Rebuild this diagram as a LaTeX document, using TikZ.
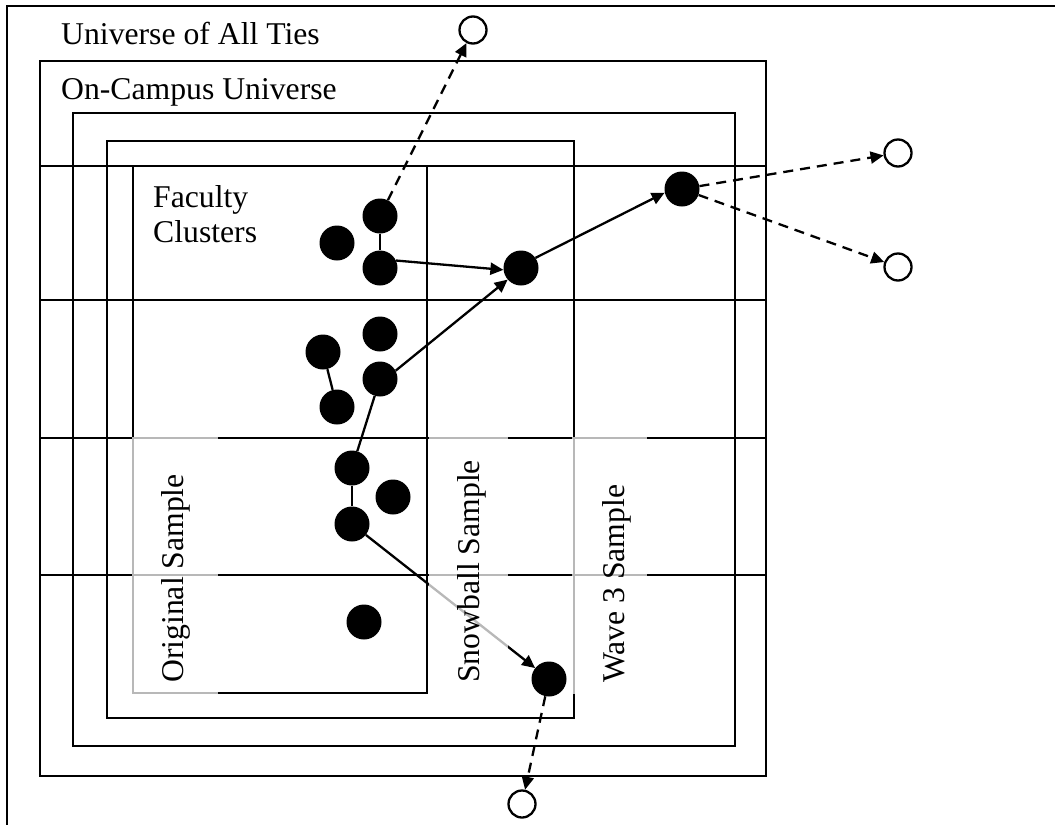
\documentclass[tikz,border=0pt]{standalone}
\usepackage{fontspec}
\setmainfont{Liberation Serif}
\usetikzlibrary{arrows.meta}
\begin{document}
\begin{tikzpicture}[x=1pt,y=-1pt,
 box/.style={line width=2pt},
 dot/.style={circle,fill=black,minimum size=35pt,inner sep=0pt},
 open/.style={circle,draw=black,fill=white,line width=2.3pt,minimum size=27pt,inner sep=0pt},
 tie/.style={line width=2.3pt},
 arr/.style={tie,-{Triangle[length=13pt,width=12pt]}},
 darr/.style={arr,dash pattern=on 10pt off 7pt},
 veil/.style={fill=white,fill opacity=0.72,draw=none},
 lbl/.style={inner sep=0pt,anchor=base west,font=\fontsize{31.7}{36}\selectfont}]
\useasboundingbox (0,0) rectangle (1055,825);
% universe of all ties (cut off at right and bottom)
\draw[box] (1055,6) -- (7,6) -- (7,825);
% nested boxes
\draw[box] (40,61) rectangle (766,776);
\draw[box] (73,113) rectangle (735,746);
\draw[box] (107,141) rectangle (574,718);
\draw[box] (133,166) rectangle (427,693);
% rows
\foreach \yy in {166,300,438,575}
  \draw[box] (40,\yy) -- (766,\yy);
% dots
\node[dot] (A) at (380,216) {};
\node[dot] (B) at (337,243) {};
\node[dot] (C) at (380,268) {};
\node[dot] (D) at (521,268) {};
\node[dot] (E) at (380,334) {};
\node[dot] (F) at (323,352) {};
\node[dot] (G) at (380,379) {};
\node[dot] (H) at (337,407) {};
\node[dot] (I) at (352,468) {};
\node[dot] (J) at (393,497) {};
\node[dot] (K) at (352,524) {};
\node[dot] (L) at (364,622) {};
\node[dot] (M) at (549,679) {};
\node[dot] (N) at (682,189) {};
\node[open] (T) at (473,30) {};
\node[open] (R1) at (898,153) {};
\node[open] (R2) at (898,267) {};
\node[open] (Bo) at (522,804) {};
% ties
\draw[tie] (A) -- (C);
\draw[tie] (F) -- (H);
\draw[tie] (I) -- (G);
\draw[tie] (I) -- (K);
\draw[arr] (C.25) -- (D.186);
\draw[arr] (G.28) -- (D.221);
\draw[arr] (D.35) -- (N.192);
\draw[arr] (K) -- (M);
\draw[darr] (A) -- (T);
\draw[darr] (N) -- (R1);
\draw[darr] (N) -- (R2);
\draw[darr] (M) -- (Bo);
% text box veils
\fill[veil] (132,437) rectangle (218,694);
\fill[veil] (428.5,437) rectangle (508,694);
\fill[veil] (572,437) rectangle (647,694);
% labels
\node[lbl] (t1) at (61,44) {Universe of All Ties};
\node[lbl] (t2) at (61,99) {On-Campus Universe};
\node[lbl] (t3) at (153,207) {Faculty};
\node[lbl] (t4) at (153,242) {Clusters};
\node[lbl,rotate=90] (t5) at (183,683) {Original Sample};
\node[lbl,rotate=90] (t6) at (479,683) {Snowball Sample};
\node[lbl,rotate=90] (t7) at (624,683) {Wave 3 Sample};
\end{tikzpicture}
\end{document}
